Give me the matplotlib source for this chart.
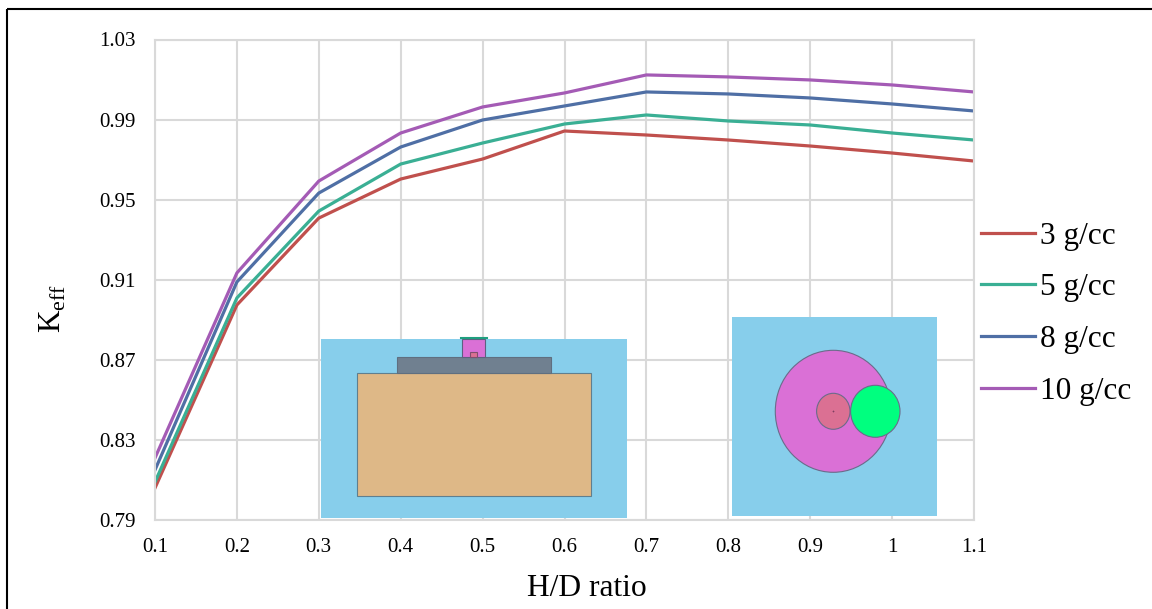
import matplotlib
matplotlib.use('Agg')
import matplotlib.pyplot as plt
from matplotlib.patches import Ellipse, Rectangle

plt.rcParams['font.family'] = ['Liberation Serif', 'DejaVu Serif']
plt.rcParams['mathtext.fontset'] = 'custom'
plt.rcParams['mathtext.rm'] = 'Liberation Serif'

hd_ratio = [0.1, 0.2, 0.3, 0.4, 0.5, 0.6, 0.7, 0.8, 0.9, 1.0, 1.1]
x_labels = ['0.1', '0.2', '0.3', '0.4', '0.5', '0.6', '0.7', '0.8', '0.9', '1', '1.1']
y_ticks = [0.79, 0.83, 0.87, 0.91, 0.95, 0.99, 1.03]

keff_3 = [0.806, 0.8974, 0.9408, 0.9603, 0.9703, 0.9843, 0.9823, 0.9798, 0.9768, 0.9733, 0.9693]
keff_5 = [0.809, 0.9009, 0.9443, 0.9678, 0.9783, 0.9878, 0.9923, 0.9893, 0.9873, 0.9833, 0.9798]
keff_8 = [0.815, 0.9089, 0.9533, 0.9763, 0.9898, 0.9968, 1.0038, 1.0028, 1.0008, 0.9978, 0.9943]
keff_10 = [0.821, 0.9134, 0.9593, 0.9833, 0.9963, 1.0033, 1.0123, 1.0113, 1.0098, 1.0073, 1.0038]

W, H = 1152, 609
GRID = '#d9d9d9'


def box(ax, x0, y0, x1, y1, face, edge='none', lw=0.8):
    ax.add_patch(Rectangle((x0, y0), x1 - x0, y1 - y0, facecolor=face, edgecolor=edge, linewidth=lw))


def disc(ax, cx, cy, rx, ry, face, edge='#6b6b8a', lw=0.8):
    ax.add_patch(Ellipse((cx, cy), 2 * rx, 2 * ry, facecolor=face, edgecolor=edge, linewidth=lw))


fig = plt.figure(figsize=(W / 100, H / 100), dpi=100)
ax = fig.add_axes([155 / W, 1 - 520 / H, (974 - 155) / W, (520 - 39.5) / H])

ax.plot(hd_ratio, keff_3, color='#c0504d', lw=2.3, label='3 g/cc')
ax.plot(hd_ratio, keff_5, color='#3aaf94', lw=2.3, label='5 g/cc')
ax.plot(hd_ratio, keff_8, color='#4f6fa5', lw=2.3, label='8 g/cc')
ax.plot(hd_ratio, keff_10, color='#a45bb5', lw=2.3, label='10 g/cc')

ax.set_xlim(0.1, 1.1)
ax.set_ylim(0.79, 1.03)
ax.set_xticks(hd_ratio)
ax.set_xticklabels(x_labels)
ax.set_yticks(y_ticks)
ax.set_yticklabels(['%.2f' % v for v in y_ticks])
ax.tick_params(length=0, labelsize=15)
ax.tick_params(axis='x', pad=13)
ax.tick_params(axis='y', pad=14)
ax.grid(True, color=GRID, lw=1.5)
ax.set_axisbelow(True)
for s in ax.spines.values():
    s.set_color(GRID)
    s.set_linewidth(1.5)

ax.set_xlabel('H/D ratio', fontsize=22.7)
ax.xaxis.set_label_coords(587 / W, 1 - 574 / H, transform=fig.transFigure)
ax.set_ylabel(r'K$_{\mathrm{eff}}$', fontsize=22.5)
ax.yaxis.set_label_coords(68 / W, 1 - 308 / H, transform=fig.transFigure)

ax.legend(loc='upper left', bbox_to_anchor=(981 / W, 1 - 221.5 / H), bbox_transform=fig.transFigure,
          frameon=False, fontsize=22.5, handlelength=1.73, handletextpad=0.16, labelspacing=0.73,
          borderpad=0, borderaxespad=0)

# overlay in pixel coords for the two geometry insets and the outer frame
ov = fig.add_axes([0, 0, 1, 1], facecolor='none')
ov.set_xlim(0, W)
ov.set_ylim(H, 0)
ov.axis('off')

# side view
box(ov, 321, 339, 627, 518, '#87ceeb')
box(ov, 357.3, 373.3, 590.7, 496.3, '#deb887', edge='#5f7f8f')
box(ov, 397.3, 357, 550.7, 373.3, '#708090', edge='#5f6f80')
box(ov, 462.3, 339, 485.3, 357.3, '#da70d6', edge='#5f5f80')
box(ov, 470, 351.5, 477, 357.3, '#db7093', edge='#7f4f70')
ov.plot([461, 487], [338, 338], color='#1f9f7f', lw=1.5)

# top view
box(ov, 732, 317, 937, 516, '#87ceeb')
disc(ov, 833.3, 411.3, 58, 61, '#da70d6')
disc(ov, 833.3, 411.3, 16.7, 18, '#db7093')
disc(ov, 875.3, 411.3, 24.7, 26, '#00ff7f')
ov.plot([833.3], [411.3], marker='+', ms=2, color='#7f3f60', mew=0.5)

# outer frame, only the top and left edges show
ov.plot([7, 7], [H, 9], color='black', lw=1.5, solid_capstyle='butt')
ov.plot([7, W], [9, 9], color='black', lw=1.5, solid_capstyle='butt')

fig.savefig('out.png', dpi=100)
plt.close()
